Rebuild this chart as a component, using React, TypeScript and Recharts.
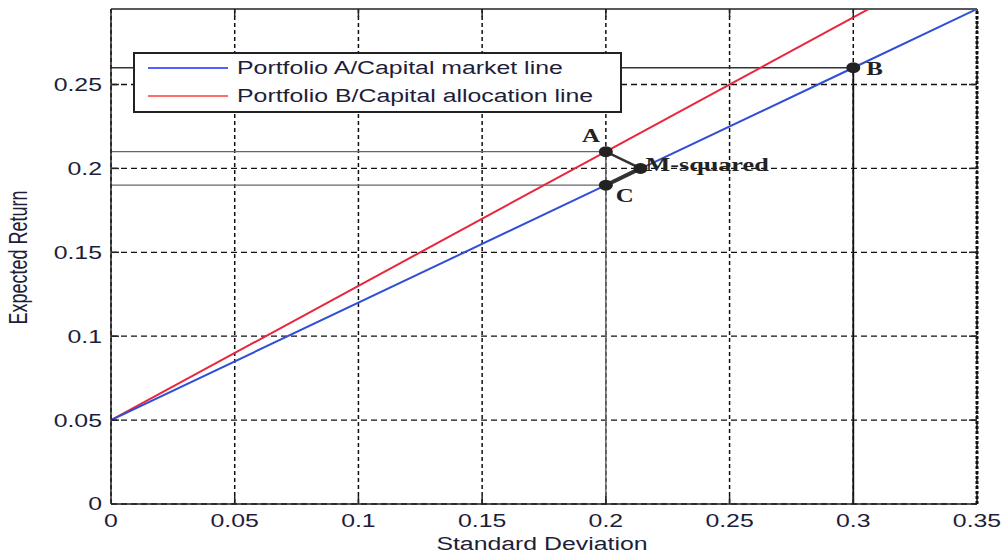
import React from 'react'
import {
  ComposedChart, Line, Scatter, XAxis, YAxis, CartesianGrid, ReferenceLine, Legend,
} from 'recharts'

// Capital market line (portfolio A) and capital allocation line (portfolio B)
const cmlSigma = [0, 0.2, 0.3, 0.35]
const cmlReturn = [0.05, 0.19, 0.26, 0.295]
const calSigma = [0, 0.2, 0.35]
const calReturn = [0.05, 0.21, 0.33]

// marked points
const pointNames = ['A', 'B', 'C', 'M-squared']
const pointSigma = [0.2, 0.3, 0.2, 0.214]
const pointReturn = [0.21, 0.26, 0.19, 0.2]

// A -> M and C -> M connectors
const aToMSigma = [0.2, 0.214]
const aToMReturn = [0.21, 0.2]
const cToMSigma = [0.2, 0.214]
const cToMReturn = [0.19, 0.2]

// projection lines to the axes
const guideSigma = [0.2, 0.2, 0.3]
const guideReturn = [0.21, 0.19, 0.26]

const xTicks = [0, 0.05, 0.1, 0.15, 0.2, 0.25, 0.3, 0.35]
const yTicks = [0, 0.05, 0.1, 0.15, 0.2, 0.25]
const seriesNames = ['Portfolio A/Capital market line', 'Portfolio B/Capital allocation line']

const W = 1005
const H = 556
const LEFT = 111
const RIGHT = 977
const TOP = 9
const BOTTOM = 504
const STRETCH = 1.38
const SANS = '"Liberation Sans", Arial, sans-serif'
const SERIF = '"Liberation Serif", "Times New Roman", serif'
const TEXT = '#1e1e38'
const BLUE = '#2f4fd6'
const RED = '#e8263c'

const toPts = (xs: number[], ys: number[]) => xs.map((x, i) => ({ x, y: ys[i] }))

const cml = toPts(cmlSigma, cmlReturn)
const cal = toPts(calSigma, calReturn)
const aToM = toPts(aToMSigma, aToMReturn)
const cToM = toPts(cToMSigma, cToMReturn)
const points = pointNames.map((name, i) => ({ name, x: pointSigma[i], y: pointReturn[i] }))

const labelOffset: Record<string, [number, number, string, number]> = {
  A: [-15, -10, 'middle', 18],
  B: [13, 7, 'start', 18],
  C: [10, 17, 'start', 18],
  'M-squared': [5, 3, 'start', 19],
}

function XTick(props: any) {
  const { x, payload } = props
  const v = payload.value
  return (
    <g>
      {v > 0 && v < 0.35 && (
        <>
          <line x1={x} y1={BOTTOM} x2={x} y2={BOTTOM - 8} stroke="#222" strokeWidth={1.5} />
          <line x1={x} y1={TOP} x2={x} y2={TOP + 8} stroke="#222" strokeWidth={1.5} />
        </>
      )}
      <text
        transform={`translate(${x},${BOTTOM + 23}) scale(${STRETCH},1)`}
        textAnchor="middle"
        fontFamily={SANS}
        fontSize={18}
        fill={TEXT}
      >
        {String(v)}
      </text>
    </g>
  )
}

function YTick(props: any) {
  const { y, payload } = props
  const v = payload.value
  return (
    <g>
      {v > 0 && (
        <>
          <line x1={LEFT} y1={y} x2={LEFT + 8} y2={y} stroke="#222" strokeWidth={1.5} />
          <line x1={RIGHT - 8} y1={y} x2={RIGHT} y2={y} stroke="#222" strokeWidth={1.5} />
        </>
      )}
      <text
        transform={`translate(${LEFT - 9},${y}) scale(${STRETCH},1)`}
        textAnchor="end"
        dy="0.36em"
        fontFamily={SANS}
        fontSize={18}
        fill={TEXT}
      >
        {String(v)}
      </text>
    </g>
  )
}

function PointMark(props: any) {
  const { cx, cy, payload } = props
  const [dx, dy, anchor, size] = labelOffset[payload.name]
  return (
    <g>
      <ellipse cx={cx} cy={cy} rx={7} ry={5.5} fill="#222" />
      <text
        transform={`translate(${cx + dx},${cy + dy}) scale(${STRETCH},1)`}
        textAnchor={anchor as any}
        fontFamily={SERIF}
        fontWeight="bold"
        fontSize={size}
        fill="#222"
      >
        {payload.name}
      </text>
    </g>
  )
}

function LegendBox() {
  const colors = ['#1a2cff', '#ff3b3b']
  return (
    <svg width={489} height={61} style={{ display: 'block' }}>
      <rect x={1} y={1} width={487} height={59} fill="#fff" stroke="#222" strokeWidth={2} />
      {seriesNames.map((n, i) => (
        <g key={n}>
          <line x1={15} x2={95} y1={16 + i * 28} y2={16 + i * 28} stroke={colors[i]} strokeWidth={1.5} />
          <text
            transform={`translate(104,${16 + i * 28}) scale(${STRETCH},1)`}
            dy="0.36em"
            fontFamily={SANS}
            fontSize={18}
            fill={TEXT}
          >
            {n}
          </text>
        </g>
      ))}
    </svg>
  )
}

export default function App() {
  return (
    <div style={{ position: 'absolute', left: 0, top: 0, width: W, height: H, background: '#fff' }}>
      <ComposedChart width={W} height={H} margin={{ top: TOP, right: W - RIGHT, left: 0, bottom: 0 }}>
        <CartesianGrid vertical={false} stroke="#111" strokeDasharray="6 4" strokeWidth={1.3} horizontalValues={yTicks} />
        <CartesianGrid horizontal={false} stroke="#111" strokeDasharray="4 3" strokeWidth={1.5} verticalValues={xTicks} />
        <XAxis
          type="number"
          dataKey="x"
          domain={[0, 0.35]}
          ticks={xTicks}
          height={H - BOTTOM}
          tickSize={0}
          tickMargin={0}
          tickLine={false}
          tick={<XTick />}
          axisLine={{ stroke: '#222', strokeWidth: 1.5 }}
          allowDataOverflow
          label={{
            content: () => (
              <text
                transform={`translate(${(LEFT + RIGHT) / 2 - 2},${H - 6}) scale(${STRETCH},1)`}
                textAnchor="middle"
                fontFamily={SANS}
                fontSize={18}
                fill={TEXT}
              >
                Standard Deviation
              </text>
            ),
          }}
        />
        <YAxis
          type="number"
          dataKey="y"
          domain={[0, 0.295]}
          ticks={yTicks}
          width={LEFT}
          tickSize={0}
          tickMargin={0}
          tickLine={false}
          tick={<YTick />}
          axisLine={{ stroke: '#222', strokeWidth: 1.5 }}
          allowDataOverflow
          label={{
            content: () => (
              <text
                transform={`translate(27,${(TOP + BOTTOM) / 2 + 1}) scale(${STRETCH},1) rotate(-90)`}
                textAnchor="middle"
                fontFamily={SANS}
                fontSize={18}
                fill={TEXT}
              >
                Expected Return
              </text>
            ),
          }}
        />
        <ReferenceLine y={0.295} stroke="#222" strokeWidth={1.5} />
        <ReferenceLine x={0.35} stroke="#111" strokeWidth={3} strokeDasharray="3 2" />
        <ReferenceLine
          segment={[{ x: 0, y: guideReturn[0] }, { x: guideSigma[0], y: guideReturn[0] }]}
          stroke="#666"
          strokeWidth={1.3}
        />
        <ReferenceLine
          segment={[{ x: 0, y: guideReturn[1] }, { x: guideSigma[1], y: guideReturn[1] }]}
          stroke="#666"
          strokeWidth={1.3}
        />
        <ReferenceLine
          segment={[{ x: guideSigma[0], y: 0 }, { x: guideSigma[0], y: guideReturn[0] }]}
          stroke="#666"
          strokeWidth={1.5}
        />
        <ReferenceLine
          segment={[{ x: 0, y: guideReturn[2] }, { x: guideSigma[2], y: guideReturn[2] }]}
          stroke="#333"
          strokeWidth={1.5}
        />
        <ReferenceLine
          segment={[{ x: guideSigma[2], y: 0 }, { x: guideSigma[2], y: guideReturn[2] }]}
          stroke="#111"
          strokeWidth={1.8}
        />
        <Line data={cal} dataKey="y" stroke={RED} strokeWidth={2} dot={false} isAnimationActive={false} legendType="none" />
        <Line data={cml} dataKey="y" stroke={BLUE} strokeWidth={2} dot={false} isAnimationActive={false} legendType="none" />
        <Line data={aToM} dataKey="y" stroke="#333" strokeWidth={2.5} dot={false} isAnimationActive={false} legendType="none" />
        <Line data={cToM} dataKey="y" stroke="#333" strokeWidth={4} dot={false} isAnimationActive={false} legendType="none" />
        <Scatter data={points} dataKey="y" shape={<PointMark />} isAnimationActive={false} legendType="none" />
        <Legend
          layout="horizontal"
          verticalAlign="middle"
          align="center"
          content={() => <LegendBox />}
          wrapperStyle={{ position: 'absolute', left: 133, top: 52, width: 489, height: 61 }}
        />
      </ComposedChart>
    </div>
  )
}
